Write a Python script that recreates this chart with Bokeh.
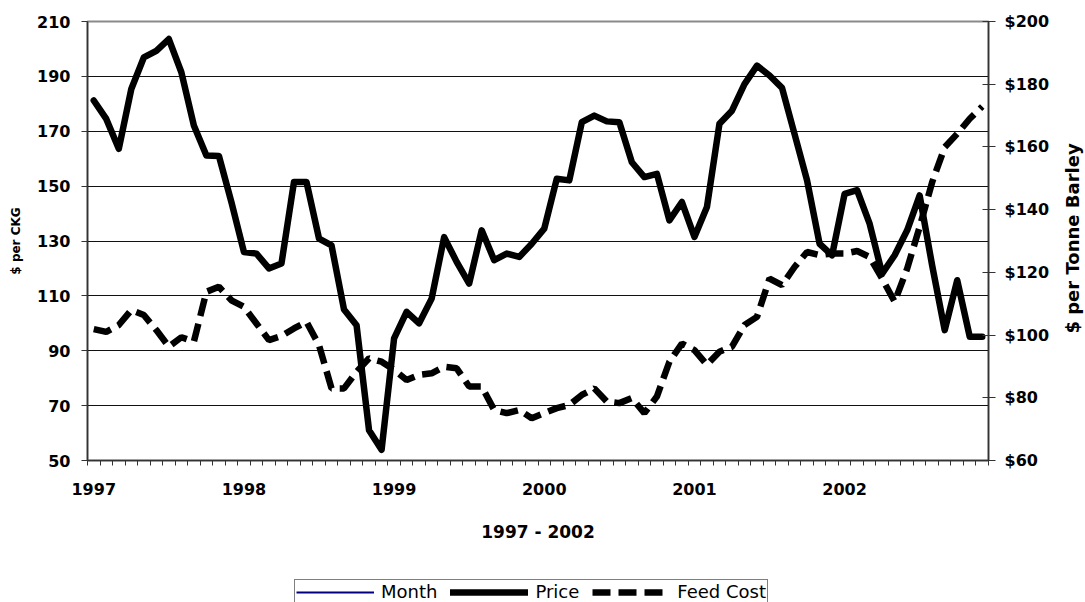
import math
from bokeh.plotting import figure
from bokeh.layouts import column, row
from bokeh.models import (Range1d, LinearAxis, FixedTicker, Legend, LegendItem,
                          NumeralTickFormatter, ColumnDataSource, Label)
from bokeh.embed import file_html
from bokeh.resources import INLINE

# ---- data (monthly, Jan 1997 - Dec 2002) ----
price = [181.2, 174.5, 163.6, 185.4, 196.9, 199.3, 203.6, 191.5, 172.1, 161.2,
         161.0, 144.2, 126.0, 125.4, 120.0, 121.8, 151.5, 151.5, 130.9, 128.4,
         105.0, 99.3, 61.0, 53.9, 94.5, 104.2, 100.0, 109.0, 131.4, 122.4,
         114.5, 133.9, 123.0, 125.4, 124.2, 129.0, 134.5, 152.7, 152.1, 173.3,
         175.7, 173.6, 173.3, 158.7, 153.3, 154.5, 137.5, 144.2, 131.5, 142.4,
         172.7, 177.5, 187.2, 193.9, 190.3, 185.8, 169.0, 152.1, 129.0, 124.8,
         147.2, 148.5, 136.3, 118.1, 124.8, 133.9, 146.6, 121.0, 97.5, 115.7,
         95.1, 95.1]
feed_cost = [101.9, 101.0, 103.2, 108.0, 106.4, 101.6, 96.3, 99.3, 97.9, 113.8,
             115.4, 111.1, 109.0, 103.7, 98.4, 99.7, 102.1, 104.2, 96.8, 83.0,
             83.0, 88.3, 92.6, 91.5, 88.9, 85.7, 87.3, 87.8, 89.9, 89.4,
             83.6, 83.6, 76.1, 75.1, 76.1, 73.5, 75.1, 76.7, 77.7, 80.9,
             83.0, 78.8, 78.3, 79.9, 75.1, 80.4, 91.5, 97.3, 95.2, 90.5,
             94.7, 96.3, 103.2, 105.8, 118.0, 115.9, 121.7, 126.5, 125.5, 126.0,
             126.0, 126.8, 124.9, 118.0, 110.6, 121.2, 134.5, 148.8, 159.9, 164.2,
             169.0, 172.9]
year_labels = ["1997", "1998", "1999", "2000", "2001", "2002"]
left_ticks = [50, 70, 90, 110, 130, 150, 170, 190, 210]
right_ticks = [60, 80, 100, 120, 140, 160, 180, 200]
series_names = ["Month", "Price", "Feed Cost"]
right_title = "$ per Tonne Barley"

n = len(price)
month_idx = list(range(n))
year_pos = [month_idx[12 * k] for k in range(len(year_labels))]

FONT = "DejaVu Sans"
TXT = "black"
PRICE_STYLE = dict(line_color="black", line_width=6.5, line_join="round", line_cap="round")
FEED_STYLE = dict(line_color="black", line_width=6.5, line_dash="18 8")
MONTH_STYLE = dict(line_color="#000080", line_width=2)

src = ColumnDataSource(dict(m=month_idx, price=price, feed=feed_cost))

p = figure(frame_width=901, frame_height=439,
           x_range=Range1d(-0.5, n - 0.5), y_range=Range1d(50, 210),
           output_backend="svg", toolbar_location=None,
           min_border_left=87, min_border_right=62, min_border_top=21,
           min_border_bottom=110, background_fill_color="white",
           border_fill_color="white")
p.extra_y_ranges = {"feed": Range1d(60, 200)}

p.outline_line_color = "#8a8a8a"
p.outline_line_width = 2

# grid
p.xgrid.visible = False
p.ygrid.ticker = FixedTicker(ticks=left_ticks[1:-1])
p.ygrid.grid_line_color = "#111111"
p.ygrid.grid_line_width = 1

# left axis
ya = p.yaxis[0]
ya.ticker = FixedTicker(ticks=left_ticks)
ya.axis_label = "$ per CKG"
ya.axis_label_text_font = FONT
ya.axis_label_text_font_style = "bold"
ya.axis_label_text_font_size = "12px"
ya.axis_label_text_color = TXT
ya.axis_label_standoff = 11
ya.major_label_text_font = FONT
ya.major_label_text_font_style = "bold"
ya.major_label_text_font_size = "16px"
ya.major_label_text_color = TXT
ya.major_label_standoff = 11
ya.major_tick_out = 6
ya.major_tick_in = 0
ya.minor_tick_out = 0
ya.minor_tick_in = 0
ya.axis_line_color = "#333333"
ya.axis_line_width = 1.5
ya.major_tick_line_color = "#333333"

# right axis
ra = LinearAxis(y_range_name="feed", ticker=FixedTicker(ticks=right_ticks),
                formatter=NumeralTickFormatter(format="$0"))
ra.major_label_text_font = FONT
ra.major_label_text_font_style = "bold"
ra.major_label_text_font_size = "16px"
ra.major_label_text_color = TXT
ra.major_label_standoff = 9
ra.major_tick_out = 7
ra.major_tick_in = 6
ra.minor_tick_out = 0
ra.minor_tick_in = 0
ra.axis_line_color = "#333333"
ra.axis_line_width = 1.5
ra.major_tick_line_color = "#333333"
p.add_layout(ra, "right")

# bottom axis
xa = p.xaxis[0]
xa.ticker = FixedTicker(ticks=year_pos, minor_ticks=[i - 0.5 for i in range(n + 1)])
xa.major_label_overrides = {pos: lab for pos, lab in zip(year_pos, year_labels)}
xa.major_tick_line_color = None
xa.major_tick_out = 5
xa.major_tick_in = 0
xa.minor_tick_out = 5
xa.minor_tick_in = 0
xa.minor_tick_line_color = "#333333"
xa.major_label_standoff = 17
xa.major_label_text_font = FONT
xa.major_label_text_font_style = "bold"
xa.major_label_text_font_size = "16px"
xa.major_label_text_color = TXT
xa.axis_label = "1997 - 2002"
xa.axis_label_text_font = FONT
xa.axis_label_text_font_style = "bold"
xa.axis_label_text_font_size = "17px"
xa.axis_label_text_color = TXT
xa.axis_label_standoff = 24
xa.axis_line_color = "#333333"
xa.axis_line_width = 1.5

# series
price_r = p.line("m", "price", source=src, **PRICE_STYLE)
feed_r = p.line("m", "feed", source=src, y_range_name="feed", **FEED_STYLE)

# right-hand axis title (reads bottom to top), in a narrow strip
rl = figure(width=35, height=570, x_range=Range1d(0, 1), y_range=Range1d(0, 1),
            output_backend="svg", toolbar_location=None,
            x_axis_location=None, y_axis_location=None,
            min_border_left=0, min_border_right=0, min_border_top=21,
            min_border_bottom=110, background_fill_color="white",
            border_fill_color="white")
rl.grid.visible = False
rl.outline_line_color = None
rl.add_layout(Label(x=20, y=222, x_units="screen", y_units="screen",
                    text=right_title, angle=math.pi / 2, text_align="center",
                    text_baseline="middle", text_font=FONT,
                    text_font_style="bold", text_font_size="18px",
                    text_color=TXT))

# legend strip
lg = figure(width=1085, height=32, x_range=Range1d(-10, -9), y_range=Range1d(-10, -9),
            output_backend="svg", toolbar_location=None,
            x_axis_location=None, y_axis_location=None,
            min_border_left=87, min_border_right=97, min_border_top=0,
            min_border_bottom=0, background_fill_color="white",
            border_fill_color="white")
lg.grid.visible = False
lg.outline_line_color = None
lm = lg.line("m", "m", source=src, **MONTH_STYLE)
lp = lg.line("m", "price", source=src, **PRICE_STYLE)
lf = lg.line("m", "feed", source=src, **FEED_STYLE)

legend = Legend(items=[LegendItem(label=series_names[0], renderers=[lm]),
                       LegendItem(label=series_names[1], renderers=[lp]),
                       LegendItem(label=series_names[2], renderers=[lf])],
                orientation="horizontal", location=(207, -2))
legend.border_line_color = "black"
legend.border_line_width = 1
legend.background_fill_color = "white"
legend.background_fill_alpha = 1
legend.label_text_font = FONT
legend.label_text_font_size = "18px"
legend.label_text_color = TXT
legend.glyph_width = 78
legend.glyph_height = 18
legend.label_height = 18
legend.label_standoff = 7
legend.spacing = 13
legend.padding = 1
legend.margin = 0
lg.add_layout(legend, "center")

layout = column(row(p, rl, spacing=0), lg, spacing=0)
open("out.html", "w").write(file_html(layout, INLINE))
